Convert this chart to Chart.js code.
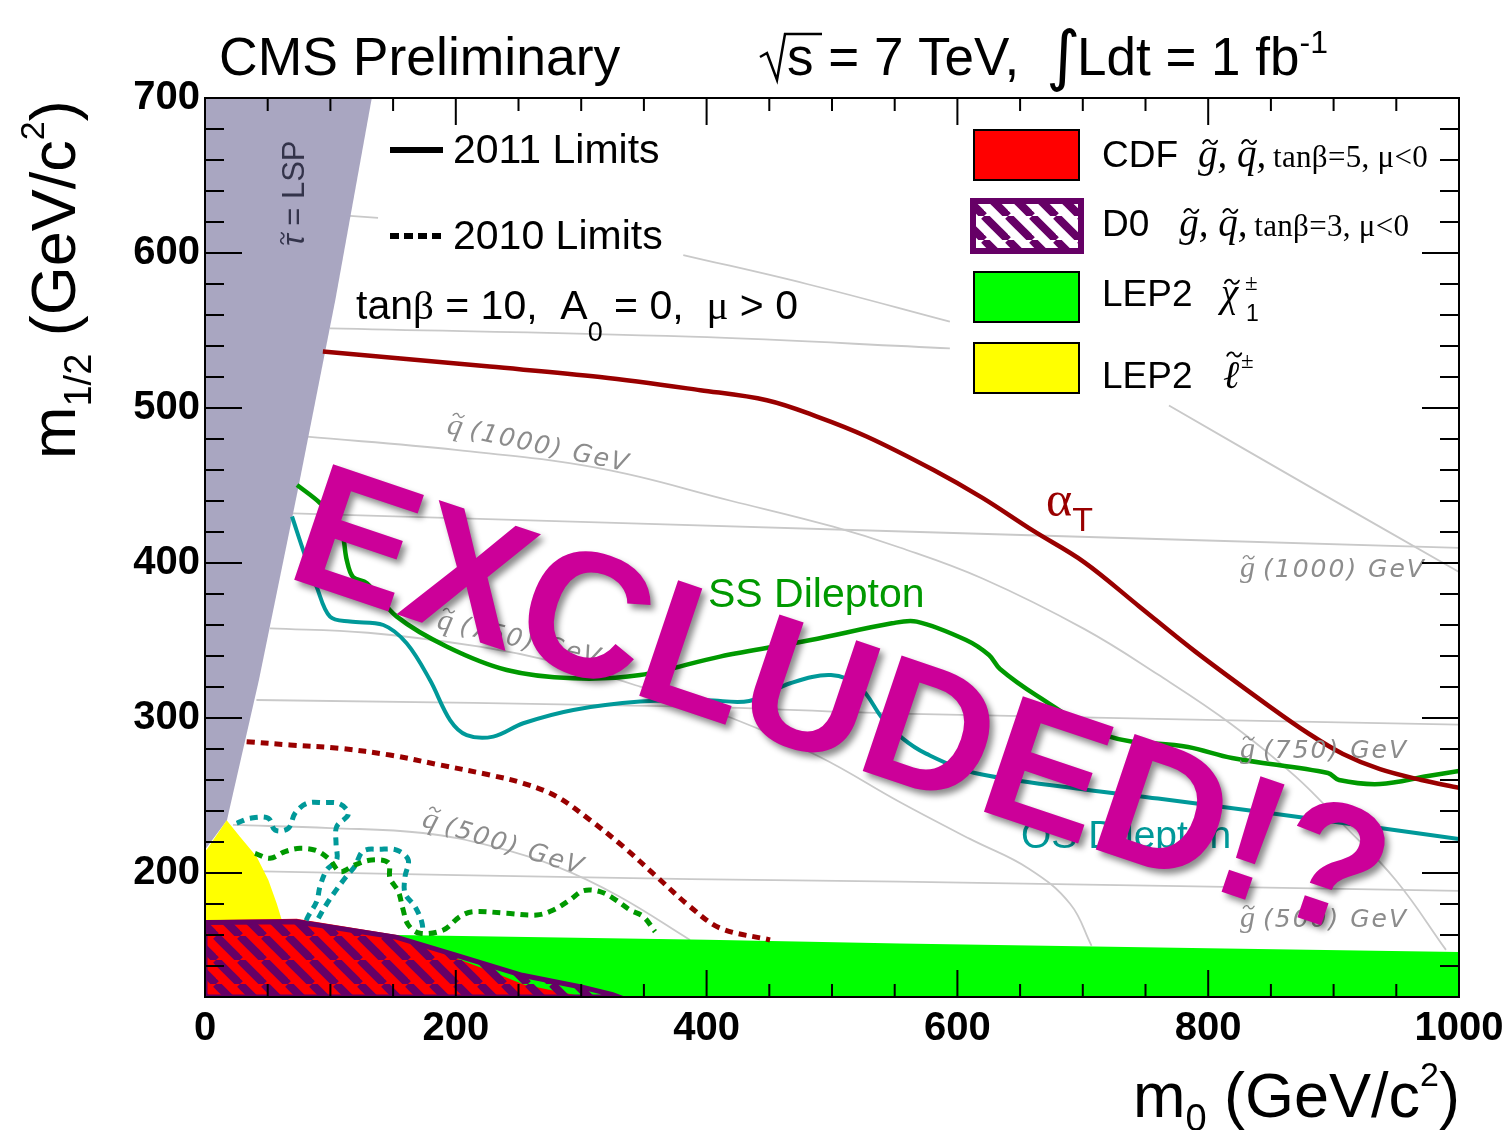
<!DOCTYPE html>
<html><head><meta charset="utf-8">
<script src="https://cdn.jsdelivr.net/npm/chart.js@4.4.1/dist/chart.umd.min.js"></script>
<style>html,body{margin:0;padding:0;background:#fff;}canvas{display:block;}</style>
</head><body>
<canvas id="c" width="1509" height="1130"></canvas>
<script>
// ---- axis ticks ----
const xTickValues = [0, 200, 400, 600, 800, 1000];
const yTickValues = [200, 300, 400, 500, 600, 700];
const xMinorTicks = [50,100,150,250,300,350,450,500,550,650,700,750,850,900,950];
const yMinorTicks = [140,160,180,220,240,260,280,320,340,360,380,420,440,460,480,520,540,560,580,620,640,660,680];

// ---- excluded / theory regions [m0, m1/2] ----
const staulspRegion = [[0,700],[133,700],[104,570],[74,447],[43,324.5],[17.5,234],[0,215]];
const lep2SleptonRegion = [[0,215],[1.3,215],[17.3,234],[27.9,223.4],[41.2,210.5],[50.5,195.5],[57.2,180.4],[61.1,170],[66,160],[66,120],[0,120]];
const lep2CharginoRegion = [[120,161],[153,160],[400,157],[554,154.5],[800,151.5],[1000,149],[1000,120],[120,120]];
const cdfRegion = [[0,169.5],[73,170.5],[153,160],[200,145],[230,136],[254,128],[294,121.5],[300,120],[0,120]];
const d0Region = [[0,168],[73,168.5],[153,158.5],[200,147],[253,134],[300,126.5],[325,121.5],[330,120],[0,120],[0,168]];

// ---- 2011 limits ----
const alphaT2011 = [[94,536.5],[227,526.7],[315,520],[395,511.5],[448,505],[488,494.5],[528,481.5],[581,460],[620,442],[660,421],[701,400.6],[745,372],[789.5,343],[848.5,307.7],[880,290],[907.5,276.8],[937,267],[970,260],[1000,255]];
const ssDilepton2011 = [[73.4,450.3],[91.7,438.7],[107.7,424.5],[113,402],[118,391],[129,387],[153,365.4],[193,346],[240.6,331],[293.5,325.6],[347,327.7],[410.7,339.6],[483,350.3],[547.8,361.1],[567.5,362.2],[606.9,350.3],[625.2,340.6],[634,331.6],[662.7,314.8],[719.3,288.4],[783.9,281.3],[819,274.2],[895.5,264.5],[904.3,260],[937,257.4],[975.3,262.6],[1000,265.8]];
const osDilepton2011 = [[69.4,430],[79.7,405],[89,384.7],[99.7,365.4],[115.6,362.2],[142.2,360],[160.8,348.2],[179.4,324.5],[195.4,298.7],[208.7,289],[229.9,288],[253.8,296.6],[293.7,305.2],[346.9,310.6],[400,311.5],[434,311],[466.7,322.4],[499.2,327.7],[522,320.2],[540,300],[556,287],[575,277],[613,264.7],[700,254],[760,248],[848.5,238.7],[937,229],[1000,222]];

// ---- 2010 limits ----
const alphaT2010 = [[33.2,284.7],[67.8,282.6],[107.7,280.4],[147.5,276.1],[187.4,269.7],[227.3,263.2],[253.8,257.9],[280.5,249.3],[307,234.2],[333.6,217],[360.2,197.6],[386.8,178.3],[410.7,164.5],[450.6,156.8]];
const ssDilepton2010 = [[39.9,212.7],[51.8,209.5],[63.8,213.8],[75.8,215.9],[89,214.4],[99.7,208.4],[107.7,200.9],[119.6,205.2],[132.9,208.4],[146.2,206.7],[147.5,196.6],[154.2,188],[157.7,177.2],[162.1,166.5],[171.5,161.1],[190,163.2],[203.3,171.9],[214,175.1],[240.6,174],[264.5,172.9],[277.8,176.1],[291,182.6],[301.7,188.6],[315,188],[325.6,183.7],[339,176.1],[349.5,171.9],[358.9,162.2]];
const osDilepton2010a = [[25.3,232.1],[35.9,235.3],[50.5,235.3],[55.8,227.7],[66.4,228.8],[71.8,238.5],[81.1,244.9],[94.3,245.4],[107.7,244.5],[114.3,238],[105,229.9],[104.5,219.1],[105,208.4],[97,201.9],[91.7,191.2],[89,181.5],[82.4,172.3],[79.7,167.5]];
const osDilepton2010b = [[90.4,170.8],[95.7,178.3],[103.7,188],[111.6,196.6],[119.6,204.5],[126.2,214.2],[139.6,215.3],[152.9,214.8],[162.1,208.4],[159.5,197.6],[159.5,186.9],[167.5,178.3],[172.8,168.6],[174,161.1]];

// ---- iso-mass contours (visible parts) ----
const gluino1500 = [[115.6,623.9],[138,622.6]];
const gluino1250 = [[99.7,551.4],[386.8,546],[594,538.5]];
const squark1250a = [[381.4,598.7],[480,580],[594,555.7]];
const squark1250b = [[768.7,501.6],[883.6,448],[1001.6,393.5]];
const gluino1000 = [[70,432],[570,420],[1001.6,409.7]];
const squark1000 = [[81,481.5],[200,473],[315,461],[420,440],[501,423.4],[554,410],[620,390],[701,357.5],[760,328],[819,295.7],[870,262],[907.5,231.4],[950,195],[989.6,150.4]];
const gluino750 = [[41,311.6],[386.8,307.3],[554,302.8],[1001.6,295.7]];
const squark750 = [[51.8,357.8],[130,355],[219,346],[280,336],[347,320.2],[420,300],[490,275],[554,245.8],[610,222],[657,202.8],[690,180],[707,153]];
const gluino500 = [[15,201.5],[387,196],[554,194.5],[1001.6,188.5]];
const squark500 = [[22.3,231],[100,229],[173.8,225.8],[230,217],[280.5,204.1],[330,185],[386.8,156.8]];

const toXY = a => a.map(([x, y]) => ({x, y}));

const SANS = "'Liberation Sans', Arial, sans-serif";
const SERIF = "'Liberation Serif', 'Times New Roman', serif";
const DARKRED = '#990000', GREEN = '#009900', TEAL = '#009999', PURPLE = '#660066';

const canvas = document.getElementById('c');
const mainCtx = canvas.getContext('2d');

function makeHatch(bg) {
  const s = 24;
  const c = document.createElement('canvas'); c.width = s; c.height = s;
  const g = c.getContext('2d');
  if (bg) { g.fillStyle = bg; g.fillRect(0, 0, s, s); }
  g.strokeStyle = PURPLE; g.lineWidth = 8;
  for (const o of [-s, 0, s]) { g.beginPath(); g.moveTo(o, 0); g.lineTo(o + s, s); g.stroke(); }
  return mainCtx.createPattern(c, 'repeat');
}
const hatchPlot = makeHatch(null);
const hatchLegend = makeHatch('#ffffff');

function iso(data) {
  return {data: toXY(data), borderColor: '#c9c9c9', borderWidth: 1.8, fill: false, tension: 0.4, order: 20};
}
function region(data, color, order, extra) {
  return Object.assign({data: toXY(data), borderWidth: 0, borderColor: color, backgroundColor: color, fill: 'shape', tension: 0, order}, extra || {});
}
function curve(data, color, width, dash, order) {
  return {data: toXY(data), borderColor: color, borderWidth: width, borderDash: dash || [], fill: false, tension: 0.35, order, borderCapStyle: 'butt', borderJoinStyle: 'round'};
}

const datasets = [
  iso(gluino1500), iso(gluino1250), iso(squark1250a), iso(squark1250b), iso(gluino1000), iso(squark1000),
  iso(gluino750), iso(squark750), iso(gluino500), iso(squark500),
  region(staulspRegion, '#a9a6c1', 15),
  region(lep2SleptonRegion, '#ffff00', 14),
  region(lep2CharginoRegion, '#00ff00', 13),
  region(cdfRegion, '#ff0000', 12),
  region(d0Region, PURPLE, 11, {backgroundColor: hatchPlot, borderWidth: 5, borderColor: PURPLE}),
  curve(alphaT2010, DARKRED, 5, [8, 6], 6),
  curve(ssDilepton2010, GREEN, 5, [8, 6], 6),
  curve(osDilepton2010a, TEAL, 5, [8, 6], 6),
  curve(osDilepton2010b, TEAL, 5, [8, 6], 6),
  curve(alphaT2011, DARKRED, 4.5, null, 2),
  curve(ssDilepton2011, GREEN, 4.5, null, 2),
  curve(osDilepton2011, TEAL, 4, null, 2)
];

function fontSize(f) { const m = /(\d+(?:\.\d+)?)px/.exec(f); return m ? parseFloat(m[1]) : 20; }
function drawTilde(ctx, cx, cy, w, color) {
  const h = w * 0.22;
  ctx.save();
  ctx.strokeStyle = color; ctx.lineWidth = Math.max(1.2, w * 0.13); ctx.lineCap = 'round';
  ctx.beginPath();
  ctx.moveTo(cx - w / 2, cy + h * 0.4);
  ctx.bezierCurveTo(cx - w * 0.3, cy - h * 1.3, cx - w * 0.05, cy - h * 0.6, cx, cy);
  ctx.bezierCurveTo(cx + w * 0.05, cy + h * 0.6, cx + w * 0.3, cy + h * 1.3, cx + w / 2, cy - h * 0.4);
  ctx.stroke(); ctx.restore();
}
function rich(ctx, x, y, segs) {
  let cx = x;
  for (const s of segs) {
    ctx.font = s.f; ctx.fillStyle = s.c || '#000';
    if (s.ls !== undefined) ctx.letterSpacing = s.ls + 'px'; else ctx.letterSpacing = '0px';
    ctx.fillText(s.t, cx, y + (s.dy || 0));
    const w = ctx.measureText(s.t).width;
    if (s.tilde) {
      const fs = fontSize(s.f);
      drawTilde(ctx, cx + w / 2 + fs * (s.tx || 0.06), y + (s.dy || 0) - fs * (s.ty || 0.72), fs * 0.36, s.c || '#000');
    }
    cx += w + (s.dx || 0);
  }
  ctx.letterSpacing = '0px';
  return cx - x;
}
function richWidth(ctx, segs) {
  let w = 0;
  for (const s of segs) { ctx.font = s.f; ctx.letterSpacing = (s.ls || 0) + 'px'; w += ctx.measureText(s.t).width + (s.dx || 0); }
  ctx.letterSpacing = '0px';
  return w;
}
function isoLabel(ctx, sym, rest, x, y, ang) {
  ctx.save(); ctx.translate(x, y); ctx.rotate(ang * Math.PI / 180);
  const col = '#8c8c8c';
  rich(ctx, 0, 0, [
    {t: sym, f: 'italic 30px ' + SERIF, c: col, tilde: true, ty: 0.66, tx: 0.04, dx: 8},
    {t: rest, f: "italic 25px 'DejaVu Sans', sans-serif", c: col, ls: 2}
  ]);
  ctx.restore();
}

const deco = {
  id: 'deco',
  afterDatasetsDraw(chart) {
    const ctx = chart.ctx;
    const xs = chart.scales.x, ys = chart.scales.y;
    const {left, right, top, bottom} = chart.chartArea;
    ctx.save();
    ctx.textBaseline = 'alphabetic'; ctx.textAlign = 'left';

    // iso-mass labels
    isoLabel(ctx, 'q', '(1000) GeV', 446, 433, 12);
    isoLabel(ctx, 'q', '(750) GeV', 436, 628, 13);
    isoLabel(ctx, 'q', '(500) GeV', 421, 826, 17);
    isoLabel(ctx, 'g', '(1000) GeV', 1240, 577, 0);
    isoLabel(ctx, 'g', '(750) GeV', 1240, 758, 0);
    isoLabel(ctx, 'g', '(500) GeV', 1240, 927, 0);

    // stau LSP label
    ctx.save(); ctx.translate(304, 246); ctx.rotate(-Math.PI / 2);
    rich(ctx, 0, 0, [{t: '\u03C4', f: 'italic 31px ' + SANS, c: '#33334a', tilde: true, ty: 0.7}, {t: ' = LSP', f: '31px ' + SANS, c: '#33334a'}]);
    ctx.restore();

    // frame and inward ticks
    ctx.strokeStyle = '#000'; ctx.lineWidth = 2;
    ctx.strokeRect(left, top, right - left, bottom - top);
    ctx.beginPath();
    const tx = (v, len) => { const p = xs.getPixelForValue(v); ctx.moveTo(p, bottom); ctx.lineTo(p, bottom - len); ctx.moveTo(p, top); ctx.lineTo(p, top + len); };
    const ty = (v, len) => { const p = ys.getPixelForValue(v); ctx.moveTo(left, p); ctx.lineTo(left + len, p); ctx.moveTo(right, p); ctx.lineTo(right - len, p); };
    xTickValues.forEach(v => tx(v, 27)); xMinorTicks.forEach(v => tx(v, 13));
    yTickValues.forEach(v => ty(v, 37)); yMinorTicks.forEach(v => ty(v, 19));
    ctx.stroke();

    // curve labels
    rich(ctx, 1046, 516, [{t: '\u03B1', f: '50px ' + SERIF, c: DARKRED}, {t: 'T', f: '34px ' + SANS, c: DARKRED, dy: 15}]);
    rich(ctx, 708, 607, [{t: 'SS Dilepton', f: '41px ' + SANS, c: GREEN}]);
    rich(ctx, 1021, 848, [{t: 'OS Dilepton', f: '39px ' + SANS, c: TEAL}]);

    // left legend
    ctx.strokeStyle = '#000'; ctx.lineWidth = 6;
    ctx.beginPath(); ctx.moveTo(390, 150); ctx.lineTo(443, 150); ctx.stroke();
    ctx.setLineDash([9, 5]);
    ctx.beginPath(); ctx.moveTo(390, 236); ctx.lineTo(443, 236); ctx.stroke();
    ctx.setLineDash([]);
    rich(ctx, 453, 163, [{t: '2011 Limits', f: '41px ' + SANS}]);
    rich(ctx, 453, 249, [{t: '2010 Limits', f: '41px ' + SANS}]);
    rich(ctx, 356, 319, [
      {t: 'tan', f: '41px ' + SANS},
      {t: '\u03B2', f: '41px ' + SERIF},
      {t: ' = 10,  A', f: '41px ' + SANS},
      {t: '0', f: '27px ' + SANS, dy: 22},
      {t: ' = 0,  ', f: '41px ' + SANS},
      {t: '\u03BC', f: '41px ' + SERIF},
      {t: ' > 0', f: '41px ' + SANS}
    ]);

    // right legend boxes
    ctx.lineWidth = 2; ctx.strokeStyle = '#000';
    ctx.fillStyle = '#ff0000'; ctx.fillRect(974, 130, 105, 50); ctx.strokeRect(974, 130, 105, 50);
    ctx.fillStyle = hatchLegend; ctx.fillRect(973, 201, 108, 50);
    ctx.lineWidth = 6; ctx.strokeStyle = PURPLE; ctx.strokeRect(973, 201, 108, 50);
    ctx.lineWidth = 2; ctx.strokeStyle = '#000';
    ctx.fillStyle = '#00ff00'; ctx.fillRect(974, 272, 105, 50); ctx.strokeRect(974, 272, 105, 50);
    ctx.fillStyle = '#ffff00'; ctx.fillRect(974, 343, 105, 50); ctx.strokeRect(974, 343, 105, 50);

    const gq = () => [
      {t: 'g', f: 'italic 39px ' + SERIF, tilde: true, ty: 0.64},
      {t: ', ', f: 'italic 39px ' + SERIF},
      {t: 'q', f: 'italic 39px ' + SERIF, tilde: true, ty: 0.64},
      {t: ', ', f: 'italic 39px ' + SERIF, dx: -3}
    ];
    rich(ctx, 1102, 167, [{t: 'CDF', f: '37px ' + SANS, dx: 20}].concat(gq(), [{t: 'tan\u03B2=5, \u03BC<0', f: '31px ' + SERIF, ls: 0.3}]));
    rich(ctx, 1102, 236, [{t: 'D0', f: '37px ' + SANS, dx: 30}].concat(gq(), [{t: 'tan\u03B2=3, \u03BC<0', f: '31px ' + SERIF, ls: 0.3}]));
    // LEP2 chargino
    rich(ctx, 1102, 306, [{t: 'LEP2', f: '37px ' + SANS}]);
    rich(ctx, 1221, 306, [{t: '\u03C7', f: 'italic 39px ' + SERIF, tilde: true, ty: 0.62}]);
    rich(ctx, 1245, 290, [{t: '\u00B1', f: '23px ' + SERIF}]);
    rich(ctx, 1246, 321, [{t: '1', f: '23px ' + SANS}]);
    // LEP2 slepton
    rich(ctx, 1102, 388, [{t: 'LEP2', f: '37px ' + SANS}]);
    rich(ctx, 1223, 388, [{t: '\u2113', f: 'italic 39px ' + SERIF, tilde: true, ty: 0.86, tx: 0.08}]);
    rich(ctx, 1241, 368, [{t: '\u00B1', f: '23px ' + SERIF}]);
    ctx.restore();
  },
  afterDraw(chart) {
    const ctx = chart.ctx;
    ctx.save();
    ctx.textBaseline = 'alphabetic'; ctx.textAlign = 'left'; ctx.fillStyle = '#000';

    // header
    rich(ctx, 219, 75, [{t: 'CMS Preliminary', f: '53.5px ' + SANS}]);
    ctx.strokeStyle = '#000'; ctx.lineWidth = 2.5;
    ctx.beginPath(); ctx.moveTo(760, 57); ctx.lineTo(767, 53); ctx.lineTo(777, 80); ctx.lineTo(785, 34); ctx.lineTo(822, 34); ctx.stroke();
    rich(ctx, 787, 75, [{t: 's = 7 TeV,', f: '53px ' + SANS}]);
    ctx.font = "66px 'DejaVu Sans'"; ctx.fillText('\u222B', 1046, 78);
    rich(ctx, 1077, 75, [{t: 'Ldt = 1 fb', f: '53px ' + SANS}, {t: '-1', f: '32px ' + SANS, dy: -22}]);

    // axis titles
    const xt = [{t: 'm', f: '63px ' + SANS}, {t: '0', f: '38px ' + SANS, dy: 14},
      {t: ' (GeV/c', f: '63px ' + SANS}, {t: '2', f: '34px ' + SANS, dy: -31}, {t: ')', f: '63px ' + SANS}];
    rich(ctx, 1460 - richWidth(ctx, xt), 1117, xt);
    const yt = [{t: 'm', f: '63px ' + SANS}, {t: '1/2', f: '38px ' + SANS, dy: 16},
      {t: ' (GeV/c', f: '63px ' + SANS}, {t: '2', f: '34px ' + SANS, dy: -31}, {t: ')', f: '63px ' + SANS}];
    ctx.save(); ctx.translate(75, 459); ctx.rotate(-Math.PI / 2);
    rich(ctx, 0, 0, yt);
    ctx.restore();

    // big overlay
    ctx.save();
    ctx.translate(283, 576); ctx.rotate(18.6 * Math.PI / 180);
    ctx.font = 'bold 177px ' + SANS;
    ctx.shadowColor = 'rgba(0,0,0,0.45)'; ctx.shadowOffsetX = 4; ctx.shadowOffsetY = 5; ctx.shadowBlur = 6;
    ctx.fillStyle = '#cc0099';
    ctx.fillText('EXCLUDED!?', 0, 0);
    ctx.restore();
    ctx.restore();
  }
};

function noScalePadding(s) { s.paddingLeft = 0; s.paddingRight = 0; s.paddingTop = 0; s.paddingBottom = 0; }

new Chart(canvas, {
  type: 'line',
  data: {datasets},
  options: {
    responsive: false, animation: false, events: [],
    layout: {padding: {top: 98, right: 50, left: 0, bottom: 0}},
    plugins: {legend: {display: false}, tooltip: {enabled: false}},
    elements: {point: {radius: 0}},
    scales: {
      x: {
        type: 'linear', min: 0, max: 1000,
        afterBuildTicks: s => { s.ticks = xTickValues.map(v => ({value: v})); },
        afterFit: s => { s.height = 133; noScalePadding(s); },
        grid: {display: false, drawTicks: false}, border: {display: false},
        ticks: {font: {family: SANS, size: 40, weight: 'bold'}, color: '#000', padding: 8, maxRotation: 0, autoSkip: false, callback: v => String(v)}
      },
      y: {
        type: 'linear', min: 120, max: 700,
        afterBuildTicks: s => { s.ticks = yTickValues.map(v => ({value: v})); },
        afterFit: s => { s.width = 205; noScalePadding(s); },
        grid: {display: false, drawTicks: false}, border: {display: false},
        ticks: {font: {family: SANS, size: 40, weight: 'bold'}, color: '#000', padding: 5, autoSkip: false, callback: v => String(v)}
      }
    }
  },
  plugins: [deco]
});
</script>
</body></html>
